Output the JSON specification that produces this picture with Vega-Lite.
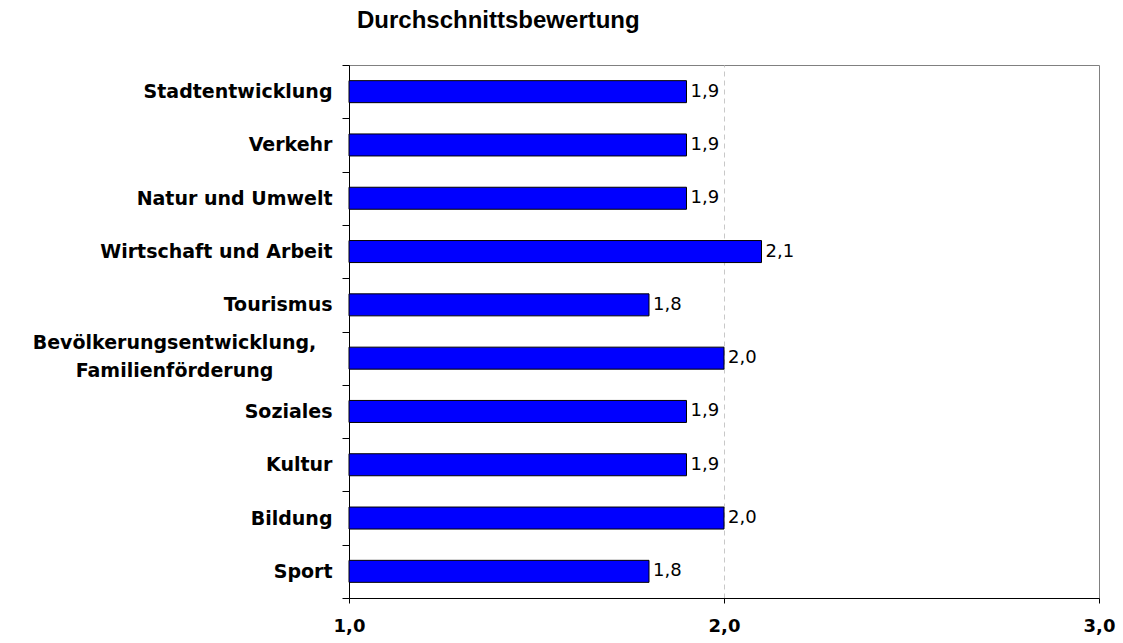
{
  "$schema": "https://vega.github.io/schema/vega-lite/v6.json",
  "autosize": "none",
  "width": 750,
  "height": 533,
  "padding": {"left": 349, "top": 65, "right": 24, "bottom": 45},
  "background": "white",
  "title": {
    "text": "Durchschnittsbewertung",
    "anchor": "start",
    "frame": "group",
    "dx": 8,
    "offset": 4,
    "baseline": "alphabetic",
    "font": "Liberation Sans",
    "fontSize": 24,
    "fontWeight": "bold",
    "color": "black"
  },
  "data": {
    "values": [
      {"bereich": "Stadtentwicklung", "wert": 1.9},
      {"bereich": "Verkehr", "wert": 1.9},
      {"bereich": "Natur und Umwelt", "wert": 1.9},
      {"bereich": "Wirtschaft und Arbeit", "wert": 2.1},
      {"bereich": "Tourismus", "wert": 1.8},
      {"bereich": "Bevölkerungsentwicklung, Familienförderung", "wert": 2.0},
      {"bereich": "Soziales", "wert": 1.9},
      {"bereich": "Kultur", "wert": 1.9},
      {"bereich": "Bildung", "wert": 2.0},
      {"bereich": "Sport", "wert": 1.8}
    ]
  },
  "encoding": {
    "y": {
      "field": "bereich",
      "type": "nominal",
      "sort": null,
      "scale": {"paddingInner": 0, "paddingOuter": 0},
      "axis": {
        "title": null,
        "domainColor": "black",
        "tickColor": "black",
        "tickSize": 7,
        "tickBand": "extent",
        "labelFont": "DejaVu Sans",
        "labelFontWeight": "bold",
        "labelFontSize": 19,
        "labelColor": "black",
        "labelPadding": {"condition": {"test": "length(datum.label) > 30", "value": 168}, "value": 10},
        "labelAlign": {"condition": {"test": "length(datum.label) > 30", "value": "center"}, "value": "right"},
        "labelOffset": {"condition": {"test": "length(datum.label) > 30", "value": -16}, "value": 0},
        "labelLineHeight": 28,
        "labelLimit": 400,
        "labelExpr": "length(datum.label) > 30 ? split(datum.label, ' ') : datum.label"
      }
    }
  },
  "layer": [
    {
      "mark": {"type": "bar", "color": "#0000FF", "stroke": "black", "strokeWidth": 1, "height": {"band": 0.413}},
      "encoding": {
        "x": {
          "field": "wert",
          "type": "quantitative",
          "scale": {"domain": [1, 3], "nice": false, "zero": false},
          "axis": {
            "title": null,
            "values": [1, 2, 3],
            "format": ".1f",
            "domainColor": "black",
            "tickColor": "black",
            "tickSize": 5,
            "labelPadding": 14,
            "labelFont": "DejaVu Sans",
            "labelFontWeight": "bold",
            "labelFontSize": 18,
            "labelColor": "black",
            "labelFlush": false,
            "grid": true,
            "gridColor": "#c8c8c8",
            "gridDash": [5, 4],
            "gridOpacity": {"condition": {"test": "datum.value == 2", "value": 1}, "value": 0}
          }
        },
        "x2": {"datum": 1}
      }
    },
    {
      "mark": {"type": "text", "align": "left", "baseline": "middle", "dx": 4, "font": "DejaVu Sans", "fontSize": 18, "color": "black"},
      "encoding": {
        "x": {"field": "wert", "type": "quantitative"},
        "text": {"field": "wert", "type": "quantitative", "format": ".1f"}
      }
    }
  ],
  "config": {
    "view": {"stroke": "#808080", "strokeWidth": 1},
    "locale": {
      "number": {"decimal": ",", "thousands": ".", "grouping": [3], "currency": ["", " €"]}
    }
  }
}
